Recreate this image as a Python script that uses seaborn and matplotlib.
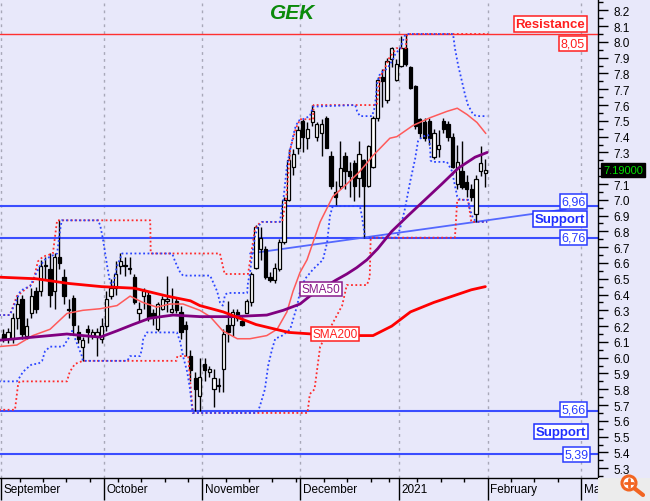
import numpy as np
import pandas as pd
import matplotlib
matplotlib.use('Agg')
import matplotlib.pyplot as plt
import matplotlib.transforms as mtransforms
from matplotlib.patches import Rectangle, Circle
from matplotlib.lines import Line2D
from matplotlib.ticker import MultipleLocator
import seaborn as sns

# Daily candles, one per trading day (Sep 2020 -> end of Jan 2021)
opens = [6.15, 6.12, 6.12, 6.25, 6.37, 6.14, 6.28, 6.42, 6.42, 6.58,
         6.56, 6.42, 6.64, 6.51, 6.31, 6.38, 6.16, 6.07, 6.18, 6.14,
         6.14, 6.12, 6.20, 6.39, 6.44, 6.58, 6.59, 6.56, 6.51, 6.28,
         6.39, 6.40, 6.28, 6.18, 6.31, 6.36, 6.29, 6.36, 6.29, 6.21,
         6.01, 5.87, 5.76, 5.96, 5.91, 5.80, 5.82, 5.93, 6.21, 6.21,
         6.29, 6.23, 6.28, 6.35, 6.57, 6.69, 6.69, 6.51, 6.49, 6.56,
         6.73, 7.00, 7.21, 7.33, 7.50, 7.39, 7.49, 7.40, 7.42, 7.52,
         7.28, 7.05, 7.09, 7.28, 7.18, 7.23, 7.14, 7.25, 7.09, 7.21,
         7.52, 7.78, 7.63, 7.89, 7.76, 7.85, 7.96, 7.84, 7.72, 7.51,
         7.49, 7.50, 7.27, 7.32, 7.50, 7.48, 7.40, 7.10, 7.18, 7.11,
         7.07, 6.91, 7.18, 7.17]
highs = [6.18, 6.19, 6.28, 6.40, 6.40, 6.25, 6.44, 6.45, 6.62, 6.64,
         6.66, 6.66, 6.87, 6.56, 6.37, 6.40, 6.21, 6.13, 6.21, 6.18,
         6.19, 6.25, 6.42, 6.50, 6.61, 6.66, 6.64, 6.64, 6.53, 6.35,
         6.44, 6.42, 6.31, 6.35, 6.39, 6.52, 6.44, 6.38, 6.33, 6.23,
         6.05, 5.91, 6.00, 6.00, 5.95, 5.93, 5.87, 6.18, 6.36, 6.31,
         6.31, 6.26, 6.37, 6.54, 6.84, 6.83, 6.71, 6.54, 6.60, 6.75,
         7.02, 7.32, 7.32, 7.47, 7.51, 7.49, 7.60, 7.49, 7.51, 7.53,
         7.31, 7.12, 7.37, 7.30, 7.24, 7.25, 7.37, 7.26, 7.35, 7.53,
         7.78, 7.83, 7.90, 7.97, 7.89, 8.04, 8.05, 7.85, 7.73, 7.52,
         7.52, 7.52, 7.45, 7.44, 7.52, 7.50, 7.42, 7.35, 7.37, 7.16,
         7.10, 7.16, 7.34, 7.26]
lows = [6.10, 6.09, 6.09, 6.18, 6.12, 6.12, 6.25, 6.28, 6.39, 6.50,
        6.32, 6.31, 6.56, 6.34, 6.25, 6.15, 6.09, 5.98, 6.09, 6.12,
        6.01, 6.09, 6.17, 6.37, 6.40, 6.53, 6.52, 6.53, 6.34, 6.23,
        6.31, 6.23, 6.21, 6.17, 6.30, 6.29, 6.28, 6.28, 6.12, 6.01,
        5.85, 5.66, 5.66, 5.85, 5.88, 5.69, 5.78, 5.78, 6.10, 6.14,
        6.23, 6.20, 6.28, 6.33, 6.56, 6.62, 6.50, 6.48, 6.47, 6.55,
        6.72, 6.99, 7.16, 7.29, 7.30, 7.32, 7.47, 7.37, 7.28, 7.33,
        7.07, 6.96, 7.07, 7.07, 7.02, 6.99, 7.02, 6.76, 7.08, 7.20,
        7.50, 7.59, 7.61, 7.84, 7.75, 7.84, 7.85, 7.70, 7.45, 7.39,
        7.37, 7.35, 7.26, 7.27, 7.42, 7.37, 7.20, 7.07, 7.07, 7.02,
        6.99, 6.86, 7.15, 7.08]
closes = [6.12, 6.16, 6.25, 6.34, 6.15, 6.20, 6.39, 6.31, 6.58, 6.59,
          6.40, 6.64, 6.60, 6.39, 6.30, 6.21, 6.12, 6.11, 6.16, 6.16,
          6.16, 6.20, 6.37, 6.44, 6.53, 6.61, 6.58, 6.57, 6.35, 6.31,
          6.42, 6.25, 6.26, 6.34, 6.37, 6.37, 6.31, 6.30, 6.16, 6.18,
          5.92, 5.80, 5.88, 5.92, 5.93, 5.87, 5.83, 6.15, 6.16, 6.29,
          6.25, 6.21, 6.36, 6.53, 6.83, 6.76, 6.51, 6.49, 6.57, 6.73,
          7.00, 7.25, 7.29, 7.44, 7.40, 7.45, 7.56, 7.48, 7.48, 7.33,
          7.09, 7.02, 7.20, 7.18, 7.15, 7.09, 7.29, 7.09, 7.34, 7.52,
          7.76, 7.75, 7.88, 7.96, 7.86, 7.96, 7.86, 7.71, 7.47, 7.42,
          7.39, 7.39, 7.42, 7.35, 7.45, 7.40, 7.21, 7.24, 7.08, 7.07,
          7.02, 7.13, 7.23, 7.19]

# Indicator lines (x = trading-day index)
sma20_x = [-1, 2.9, 6.3, 10, 13.6, 17, 20.7, 24.3, 27.1, 29.8, 32.8, 35.6, 38.4, 42,
           44.2, 46.9, 50, 52.7, 56.3, 58.5, 60.6, 61.9, 63.4, 64.9, 67.7, 70.4, 73.4,
           76.2, 79, 82.6, 84.1, 87.5, 91.2, 94.8, 97, 99.1, 101.2, 103.1]
sma20_y = [6.07, 6.08, 6.14, 6.18, 6.28, 6.30, 6.31, 6.33, 6.39, 6.35, 6.32, 6.34, 6.34, 6.30,
           6.26, 6.17, 6.12, 6.12, 6.14, 6.18, 6.29, 6.42, 6.54, 6.62, 6.86, 7.02, 7.10,
           7.18, 7.28, 7.39, 7.40, 7.47, 7.52, 7.56, 7.58, 7.54, 7.49, 7.42]
sma50_x = [-1, 6.3, 13.6, 17, 20.7, 24.3, 27.7, 31.3, 36.3, 42, 49, 56.3, 59.8, 63.4,
           65.5, 68.3, 71, 73.4, 75.5, 77.7, 80, 83, 86.5, 90.1, 93.7, 97.2, 100.8, 103.4]
sma50_y = [6.11, 6.13, 6.15, 6.14, 6.13, 6.17, 6.21, 6.25, 6.27, 6.26, 6.26, 6.27, 6.30, 6.34,
           6.39, 6.44, 6.49, 6.53, 6.57, 6.62, 6.69, 6.80, 6.90, 7.00, 7.10, 7.20, 7.27, 7.30]
sma200_x = [-1, 7, 14, 21, 28, 35, 40, 42, 47, 54, 61, 66, 72, 79, 83, 87, 92, 97, 100, 103]
sma200_y = [6.51, 6.50, 6.47, 6.45, 6.44, 6.39, 6.36, 6.33, 6.29, 6.21, 6.16, 6.15, 6.14,
            6.14, 6.20, 6.29, 6.35, 6.40, 6.43, 6.45]

red_hi_x = [-1, 1.4, 1.9, 2.9, 5, 6.3, 7.4, 8.5, 10.6, 11.5, 31.4, 31.5, 46.3, 47.3, 52.3,
            53.8, 55, 59.6, 60.5, 61.3, 62.5, 63.4, 66.2, 66.3, 79.8, 80.5, 81.5, 82.5, 84,
            86, 86.3, 103.6]
red_hi_y = [6.27, 6.27, 6.31, 6.39, 6.44, 6.47, 6.61, 6.64, 6.66, 6.87, 6.87, 6.66, 6.66, 6.53,
            6.53, 6.82, 6.86, 6.86, 7.02, 7.32, 7.45, 7.51, 7.51, 7.60, 7.60, 7.78, 7.83, 7.90,
            7.96, 7.96, 8.05, 8.05]
red_lo_x = [-1, 2.5, 3.2, 3.6, 13.6, 14.2, 15.3, 17, 37, 37.2, 39.5, 40.5, 65, 65.5, 66.5,
            67.7, 72.4, 73.4, 77.7, 78.3, 78.5, 96.5, 97, 99.3, 100, 103.4]
red_lo_y = [5.67, 5.67, 5.84, 5.85, 5.85, 5.91, 5.96, 5.98, 5.98, 6.01, 6.01, 5.65, 5.65, 5.77,
            5.80, 6.07, 6.33, 6.46, 6.46, 6.51, 6.76, 6.76, 7.00, 7.00, 6.86, 6.86]
blue_hi_x = [-1, 1.4, 2.9, 3.6, 4.6, 5.7, 6.8, 7.8, 8.9, 10, 11.5, 12.1, 12.5, 20.2, 20.7,
             21.3, 22.2, 22.8, 23.4, 24.3, 25.4, 36.1, 36.7, 37.8, 38.4, 44.2, 44.8, 45.7,
             46.3, 46.9, 47.4, 48, 52.1, 52.3, 52.7, 53.1, 53.8, 54.4, 55.3, 59.1, 59.8,
             60.6, 61.3, 62.3, 63, 64, 65.5, 66.2, 75.2, 75.6, 76.2, 78.8, 79.4, 79.9, 80.5,
             82, 83.1, 83.7, 84.8, 85.8, 86.3, 96.1, 96.5, 97.2, 98, 98.7, 99.3, 100.4,
             101.2, 103.4]
blue_hi_y = [6.27, 6.27, 6.37, 6.42, 6.44, 6.45, 6.52, 6.58, 6.62, 6.64, 6.66, 6.80, 6.87,
             6.87, 6.84, 6.75, 6.58, 6.48, 6.45, 6.58, 6.66, 6.66, 6.61, 6.54, 6.52, 6.52,
             6.48, 6.42, 6.35, 6.33, 6.40, 6.41, 6.41, 6.48, 6.53, 6.64, 6.77, 6.83, 6.86,
             6.86, 6.99, 7.21, 7.32, 7.45, 7.50, 7.51, 7.53, 7.59, 7.60, 7.56, 7.53, 7.53,
             7.59, 7.74, 7.80, 7.83, 7.88, 7.92, 7.96, 8.04, 8.05, 8.05, 7.96, 7.85, 7.75,
             7.66, 7.60, 7.54, 7.53, 7.53]
blue_lo_x = [-1, 2.9, 3.6, 4.2, 5.7, 6.3, 7.4, 8.3, 8.9, 10, 12.8, 14.3, 14.7, 16.8, 17,
             26.5, 27.1, 29.2, 29.6, 29.9, 30.7, 36.3, 37.1, 37.8, 38.4, 39.3, 39.9, 40.3,
             40.5, 54.2, 54.8, 55.9, 56.6, 57.4, 58.1, 59.6, 61.3, 62.8, 63.4, 64.5, 66.2,
             68.3, 69.2, 69.8, 70.4, 76.2, 76.6, 77.3, 84.1, 84.8, 85.8, 86.9, 88, 88.6,
             89.5, 90.8, 91.2, 91.3, 91.6, 94.8, 95.9, 96.5, 97, 97.6, 99.3, 99.7, 100.4,
             101.2, 103.4]
blue_lo_y = [5.85, 5.85, 5.88, 5.91, 5.95, 5.96, 5.96, 5.98, 6.04, 6.07, 6.07, 6.14, 6.17,
             6.01, 5.98, 5.98, 6.01, 6.01, 6.05, 6.12, 6.16, 6.16, 6.16, 6.10, 6.01, 5.91,
             5.80, 5.69, 5.65, 5.65, 5.69, 5.80, 5.95, 6.05, 6.12, 6.14, 6.18, 6.33, 6.42,
             6.50, 6.56, 6.62, 6.73, 6.90, 6.96, 6.96, 6.90, 6.76, 6.76, 6.82, 6.94, 7.11,
             7.26, 7.37, 7.40, 7.41, 7.34, 7.25, 7.24, 7.24, 7.18, 7.09, 7.02, 7.00, 7.00,
             6.94, 6.88, 6.86, 6.86]

resistance = 8.05
supports = [6.96, 6.76, 5.66, 5.39]
trend_x = [52.7, 120.2]
trend_y = [6.66, 6.94]
last_price = 7.19

month_pos = [-0.5, 21.5, 42.5, 63.5, 84.5, 103.5, 123.5]
month_labels = ['September', 'October', 'November', 'December', '2021', 'February', 'Ma']
week_pos = [3.5, 8.5, 13.5, 18.5, 24.5, 29.5, 34.5, 39.5, 47.5, 52.5, 57.5, 62.5, 68.5,
            73.5, 78.5, 82.5, 88.5, 93.5, 98.5, 108.5, 113.5, 118.5]
price_ticks = [5.3, 5.4, 5.5, 5.6, 5.7, 5.8, 5.9, 6.0, 6.1, 6.2, 6.3, 6.4, 6.5, 6.6, 6.7,
               6.8, 6.9, 7.0, 7.1, 7.2, 7.3, 7.4, 7.5, 7.6, 7.7, 7.8, 7.9, 8.0, 8.1, 8.2]

df = pd.DataFrame({'open': opens, 'high': highs, 'low': lows, 'close': closes})
df['k'] = np.arange(len(df))

bg = '#e8e8fa'
sns.set_theme(style='ticks')
plt.rcParams['font.family'] = ['Liberation Sans', 'DejaVu Sans']

fig = plt.figure(figsize=(6.5, 5.02), dpi=100, facecolor=bg)
ax = fig.add_axes([0, 23 / 502, 598 / 650, 479 / 502])
ax.set_facecolor(bg)
ax.set_xlim(-0.7, 127.07)
ax.set_ylim(5.238, 8.2717)

# month grid
for xp in month_pos:
    ax.axvline(xp, color='#a8a8b8', lw=1, ls=(0, (2, 3)), zorder=1)

# horizontal levels
ax.axhline(resistance, color='#ff3030', lw=1, zorder=2)
for lv in supports:
    ax.axhline(lv, color='#3a4dff', lw=1.5, zorder=2)
sns.lineplot(x=trend_x, y=trend_y, color='#5468ff', lw=1.3, ax=ax, zorder=2)

# candles
up = df['close'] >= df['open']
ax.vlines(df['k'], df['low'], df['high'], color='black', lw=1, zorder=3)
body_lo = np.minimum(df['open'], df['close'])
body_h = np.maximum((df['close'] - df['open']).abs(), 0.008)
ax.bar(df['k'], body_h, bottom=body_lo, width=0.7,
       color=np.where(up, 'white', 'black'), edgecolor='black', linewidth=0.9, zorder=3.5)

# channels
dot = (0, (1, 1.4))
sns.lineplot(x=red_hi_x, y=red_hi_y, color='#ff2a2a', lw=1.3, ls=dot, estimator=None, sort=False, ax=ax, zorder=4)
sns.lineplot(x=red_lo_x, y=red_lo_y, color='#ff2a2a', lw=1.3, ls=dot, estimator=None, sort=False, ax=ax, zorder=4)
sns.lineplot(x=blue_hi_x, y=blue_hi_y, color='#2a45ff', lw=1.3, ls=dot, estimator=None, sort=False, ax=ax, zorder=4)
sns.lineplot(x=blue_lo_x, y=blue_lo_y, color='#2a45ff', lw=1.3, ls=dot, estimator=None, sort=False, ax=ax, zorder=4)

# moving averages
sns.lineplot(x=sma20_x, y=sma20_y, color='#ff5a5a', lw=1.1, estimator=None, sort=False, ax=ax, zorder=4.5)
sns.lineplot(x=sma50_x, y=sma50_y, color='#800080', lw=2.0, estimator=None, sort=False, ax=ax, zorder=4.6)
sns.lineplot(x=sma200_x, y=sma200_y, color='#ff0000', lw=2.0, estimator=None, sort=False, ax=ax, zorder=4.7)

# labels
def box(x, y, s, color, ha='right', bold=False, size=9):
    ax.text(x, y, s, color=color, ha=ha, va='center', fontsize=size,
            fontweight='bold' if bold else 'normal', zorder=6,
            bbox=dict(boxstyle='square,pad=0.12', fc='white', ec=color, lw=1.1))

box(124.3, 8.113, 'Resistance', '#ff2020', bold=True, size=9.5)
box(124.3, 7.987, '8,05', '#ff2020')
box(124.5, 6.99, '6,96', '#2a3cff')
box(124.3, 6.878, 'Support', '#1f2fff', bold=True, size=9.5)
box(124.5, 6.764, '6,76', '#2a3cff')
box(124.5, 5.675, '5,66', '#2a3cff')
box(124.5, 5.53, 'Support', '#1f2fff', bold=True, size=9.5)
box(125.0, 5.39, '5,39', '#2a3cff')
box(67.9, 6.435, 'SMA50', '#8a1a8a', ha='center', size=8.5)
box(70.9, 6.15, 'SMA200', '#ff2020', ha='center', size=8.5)

fig.text(293 / 650, 1 - 13.5 / 502, 'GEK', ha='center', va='center', fontsize=15,
         fontweight='bold', style='italic', color='#0a8a0a')

tr = mtransforms.blended_transform_factory(ax.transAxes, ax.transData)
ax.text(1.009, last_price, '7.19000', transform=tr, ha='left', va='center', fontsize=8,
        color='#00e000', clip_on=False, zorder=10,
        bbox=dict(boxstyle='square,pad=0.2', fc='black', ec='black'))

# axes styling
for side in ['left', 'top']:
    ax.spines[side].set_visible(False)
for side in ['right', 'bottom']:
    ax.spines[side].set_color('black')
    ax.spines[side].set_linewidth(1)

ax.yaxis.tick_right()
ax.set_yticks(price_ticks)
# the 7.2 label sits under the last-price box
ax.set_yticklabels(['' if abs(v - 7.2) < 1e-9 else f'{v:.1f}' for v in price_ticks])
ax.yaxis.set_minor_locator(MultipleLocator(0.05))
ax.tick_params(axis='y', which='major', length=7, width=1, color='black', pad=4,
               labelsize=8.5, labelcolor='black', right=True, left=False)
ax.tick_params(axis='y', which='minor', length=3.5, width=1, color='black', right=True, left=False)

ax.set_xticks(month_pos)
ax.set_xticklabels(month_labels)
ax.set_xticks(week_pos, minor=True)
ax.tick_params(axis='x', which='major', length=16, width=1, color='black', pad=-12.5,
               labelsize=8.5, labelcolor='black')
ax.tick_params(axis='x', which='minor', length=3, width=1, color='black')
off = mtransforms.ScaledTranslation(2 / 72, 0, fig.dpi_scale_trans)
for lab in ax.get_xticklabels():
    lab.set_horizontalalignment('left')
    lab.set_transform(lab.get_transform() + off)
ax.set_xlabel('')
ax.set_ylabel('')

# corner box with zoom icon
fig.patches.append(Rectangle((598 / 650, 0), 52 / 650, 23 / 502, transform=fig.transFigure,
                             fc='#ececec', ec='none', zorder=5))
cx, cy = 629 / 650, 1 - 484 / 502
fig.lines.append(Line2D([cx + 5 / 650, 643 / 650], [cy - 5 / 502, 1 - 496 / 502],
                        transform=fig.transFigure, color='#f26522', lw=3, zorder=6))
fig.patches.append(Circle((629, 18), 7, transform=None, fc='white', ec='#f26522', lw=2.2, zorder=7))
fig.lines.append(Line2D([625 / 650, 633 / 650], [cy, cy], transform=fig.transFigure,
                        color='#f26522', lw=2, zorder=8))
fig.lines.append(Line2D([cx, cx], [cy - 4 / 502, cy + 4 / 502], transform=fig.transFigure,
                        color='#f26522', lw=2, zorder=8))

fig.savefig('out.png', dpi=100, facecolor=bg)
